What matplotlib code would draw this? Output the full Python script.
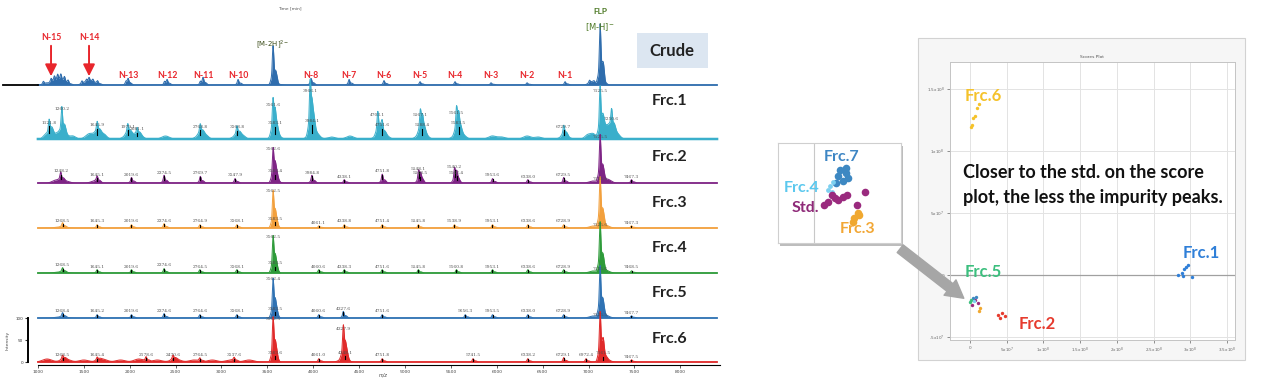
import numpy as np
import matplotlib
matplotlib.use('Agg')
import matplotlib.pyplot as plt
from matplotlib.patches import Rectangle, FancyArrowPatch

W, H = 1280, 380
BOLD = ['Lato', 'DejaVu Sans']

# ---------------- spectra data (m/z, peak height) ----------------
trace_names = ['Crude', 'Frc.1', 'Frc.2', 'Frc.3', 'Frc.4', 'Frc.5', 'Frc.6']
trace_colors = ['#2f6dad', '#3aafcb', '#7e2485', '#f2a03d', '#2e9b3a', '#2f72b3', '#e02a2a']

crude_peaks = [(1060, 3), (1143, 4), (1180, 5), (1215, 6), (1250, 6), (1290, 5), (1330, 3),
               (1480, 3), (1530, 3), (1557, 4), (1600, 3), (1650, 3), (1960, 3), (1982, 5),
               (2380, 3), (2407, 4), (2770, 3), (2799, 6), (3181, 5), (3562, 35), (3976, 6),
               (4390, 5), (4771, 4), (5164, 3), (5545, 3), (5937, 2), (6330, 2), (6744, 3),
               (7010, 3), (7060, 2), (7125.5, 55), (7165, 4)]

frc1_peaks = [(1121.8, 13), (1260.2, 26), (1645.9, 10), (1979.1, 9), (2081.1, 6), (2768.8, 9),
              (3168.8, 8), (3561.6, 30), (3583.1, 12), (3966.1, 45), (3984.1, 14), (4703.1, 20),
              (4751.6, 10), (5167.1, 20), (5188.4, 10), (5561.5, 23), (5583.5, 12), (6729.7, 9),
              (7125.5, 45), (7250.6, 17)]
frc2_peaks = [(1248.2, 8), (1645.1, 5), (2019.6, 5), (2374.5, 7), (2769.7, 6), (3147.9, 4),
              (3562.6, 30), (3583.4, 8), (3984.8, 7), (4338.1, 3), (4751.8, 8), (5148.1, 11),
              (5168.5, 6), (5540.2, 13), (5562.4, 7), (5953.6, 4), (6338.0, 3), (6729.5, 5),
              (7125.5, 43), (7467.3, 3)]
frc3_peaks = [(1268.5, 4), (1645.3, 3), (2019.6, 3), (2374.6, 4), (2764.9, 3), (3168.1, 3),
              (3562.5, 33), (3583.5, 6), (4061.1, 2), (4338.8, 3), (4751.4, 3), (5145.8, 3),
              (5538.9, 3), (5953.1, 3), (6338.6, 3), (6728.9, 3), (7125.5, 45), (7467.3, 2)]
frc4_peaks = [(1268.5, 4), (1645.1, 3), (2019.6, 3), (2374.6, 4), (2764.5, 3), (3168.1, 3),
              (3562.5, 33), (3583.5, 6), (4060.6, 3), (4338.3, 3), (4751.6, 3), (5145.8, 3),
              (5560.8, 3), (5953.1, 3), (6338.6, 3), (6728.9, 3), (7125.6, 45), (7468.5, 2)]
frc5_peaks = [(1268.4, 4), (1645.2, 3), (2019.6, 3), (2374.6, 4), (2764.6, 3), (3168.1, 3),
              (3562.4, 35), (3583.5, 6), (4060.6, 3), (4327.6, 6), (4751.6, 3), (5656.3, 3),
              (5953.5, 3), (6338.0, 3), (6728.9, 3), (7125.6, 46), (7467.7, 2)]
frc6_peaks = [(1268.5, 4), (1645.4, 3), (2178.6, 4), (2470.6, 4), (2764.5, 3), (3137.6, 3),
              (3562.5, 40), (3583.6, 6), (4061.0, 3), (4327.9, 29), (4348.1, 6), (4751.8, 3),
              (5741.5, 3), (6338.2, 3), (6729.1, 4), (6972.4, 3), (7125.5, 44), (7161.5, 5),
              (7467.5, 2)]

# broad low bumps of the noisy baseline (m/z, height, width)
crude_humps = [(1150, 2, 50), (1250, 2, 40), (1560, 2, 60), (3600, 1, 40), (7040, 2, 40)]
frc1_humps = [(1080, 4, 25), (1150, 7, 30), (1220, 6, 25), (1300, 5, 30), (1380, 3, 30),
              (1560, 5, 40), (1650, 6, 40), (1720, 4, 30), (1980, 5, 40), (2060, 4, 40),
              (2120, 3, 30), (2390, 3, 40), (2770, 5, 40), (2830, 3, 30), (3170, 4, 40),
              (3230, 3, 30), (3570, 6, 30), (3620, 3, 30), (3990, 8, 40), (4050, 3, 30),
              (4200, 2, 40), (4400, 3, 40), (4720, 6, 40), (4800, 3, 30), (5170, 6, 40),
              (5230, 3, 30), (5570, 6, 40), (5640, 3, 30), (5950, 3, 40), (6050, 2, 40),
              (6330, 3, 40), (6450, 2, 40), (6740, 4, 40), (6990, 4, 30), (7050, 5, 30),
              (7190, 12, 40), (7260, 8, 40), (7320, 3, 30)]
frc2_humps = [(1200, 3, 40), (1300, 2, 40), (1620, 2, 40), (3600, 2, 30), (7050, 2, 40), (7200, 4, 40)]
frc3_humps = [(1250, 1, 60), (7050, 2, 40), (7180, 3, 40)]
frc4_humps = [(1250, 1, 60), (7050, 2, 40), (7180, 3, 40)]
frc5_humps = [(1250, 1, 60), (7050, 2, 40), (7180, 3, 40)]
frc6_humps = [(1100, 3, 50), (1300, 3, 50), (1500, 2, 50), (1700, 3, 50), (1900, 2, 50),
              (2100, 3, 50), (2300, 2, 50), (2500, 3, 50), (2700, 2, 50), (2900, 2, 50),
              (3100, 2, 50), (3300, 2, 50), (4330, 4, 40), (7180, 4, 40)]

all_peaks = [crude_peaks, frc1_peaks, frc2_peaks, frc3_peaks, frc4_peaks, frc5_peaks, frc6_peaks]
all_humps = [crude_humps, frc1_humps, frc2_humps, frc3_humps, frc4_humps, frc5_humps, frc6_humps]

# truncated-sequence ladder labels of the crude trace
ladder_names = ['N-13', 'N-12', 'N-11', 'N-10', 'N-8', 'N-7', 'N-6', 'N-5', 'N-4', 'N-3', 'N-2', 'N-1']
ladder_mz = [1982, 2407, 2799, 3181, 3976, 4390, 4771, 5164, 5545, 5937, 6330, 6744]
arrow_names = ['N-15', 'N-14']
arrow_mz = [1143, 1557]

mz_ticks = list(range(1000, 8001, 500))

# ---------------- score plot data (units of 1e7) ----------------
score_groups = ['Frc.6', 'Frc.1', 'Frc.2', 'Std.', 'Frc.7', 'Frc.3', 'Frc.5', 'Frc.4']
score_colors = ['#f5c22a', '#2f7fd8', '#e63b2e', '#9a2a7e', '#3d88c2', '#f0a830', '#3cbf7e', '#7dd0f0']
score_x = [[1.23, 0.95, 0.68, 0.41, 0.27, 0.14],
           [28.34, 28.88, 29.16, 29.43, 29.70, 30.25, 29.02],
           [3.81, 4.36, 4.77, 4.09],
           [0.68, 1.09, 0.27],
           [0.41, 0.82],
           [1.36, 1.23],
           [0.14, 0.0],
           [0.54]]
score_y = [[13.79, 13.47, 12.82, 12.66, 12.10, 11.94],
           [0.0, 0.16, 0.48, 0.65, 0.81, -0.16, -0.08],
           [-3.23, -3.06, -3.31, -3.47],
           [-2.02, -2.26, -2.42],
           [-1.85, -1.77],
           [-2.66, -2.90],
           [-2.02, -2.18],
           [-2.10]]

# zoomed cluster (inset, local 0-1 units)
inset_groups = ['Frc.7', 'Frc.4', 'Std.', 'Frc.3']
inset_colors = ['#3d88c2', '#7dd0f0', '#9a2a7e', '#f0a830']
inset_x = [[0.50, 0.55, 0.57, 0.49, 0.53, 0.47, 0.55],
           [0.42, 0.45, 0.41, 0.44],
           [0.71, 0.53, 0.46, 0.41, 0.37, 0.64, 0.56, 0.44, 0.49],
           [0.66, 0.62, 0.61, 0.65]]
inset_y = [[0.73, 0.70, 0.65, 0.67, 0.62, 0.60, 0.75],
           [0.57, 0.61, 0.53, 0.51],
           [0.51, 0.46, 0.45, 0.41, 0.38, 0.38, 0.48, 0.48, 0.43],
           [0.28, 0.25, 0.21, 0.30]]

# ---------------------------------------------------------------
fig = plt.figure(figsize=(12.8, 3.8), dpi=100)
fig.patch.set_facecolor('white')


def fbox(x0, y0, x1, y1):
    return [x0 / W, 1 - y1 / H, (x1 - x0) / W, (y1 - y0) / H]


def ftext(px, py, s, **kw):
    return fig.text(px / W, 1 - py / H, s, **kw)


ax = fig.add_axes(fbox(0, 0, 720, 380))
ax.set_xlim(587, 8432)
ax.set_ylim(0, 380)
ax.patch.set_alpha(0)
for side in ['top', 'right', 'left']:
    ax.spines[side].set_visible(False)
ax.spines['bottom'].set_position(('data', 15))
ax.spines['bottom'].set_bounds(1000, 8432)
ax.spines['bottom'].set_linewidth(0.8)
ax.set_yticks([])
ax.set_xticks(mz_ticks)
ax.set_xticklabels([str(t) for t in mz_ticks])
ax.tick_params(axis='x', labelsize=3.2, length=2, width=0.6, pad=1.5, colors='#444444')

offsets = [295, 241, 197, 152, 107, 62, 18]
mz = np.linspace(1000, 8400, 12000)
adduct_off = [22, 38, -18]
adduct_ratio = [0.3, 0.18, 0.15]


def build(peaks, humps, sigma=8.0):
    y = np.zeros_like(mz)
    for m, h in peaks:
        y += h * np.exp(-0.5 * ((mz - m) / sigma) ** 2)
        for off, r in zip(adduct_off, adduct_ratio):
            y += h * r * np.exp(-0.5 * ((mz - m - off) / (sigma * 1.5)) ** 2)
    for m, h, w in humps:
        y += h * np.exp(-0.5 * ((mz - m) / w) ** 2)
    return y


ax.plot([620, 1000], [offsets[0], offsets[0]], color='black', lw=1.3, zorder=3)
for i, name in enumerate(trace_names):
    y = build(all_peaks[i], all_humps[i])
    base = offsets[i]
    c = trace_colors[i]
    lw = 1.8 if name == 'Frc.1' else 1.2
    ax.fill_between(mz, base, base + y, color=c, lw=0, zorder=2)
    ax.plot(mz, base + y, color=c, lw=0.7, zorder=2)
    ax.plot(mz, np.full_like(mz, base), color=c, lw=lw, zorder=2)
    if name == 'Crude':
        continue
    for m, h in all_peaks[i]:
        ax.text(m, base + h + 1.5, f'{m:.1f}', fontsize=3.2, family='DejaVu Serif',
                color='#4d4d4d', ha='center', va='bottom', zorder=4)
        if h <= 15:
            ax.plot([m, m], [base + h * 0.45, base + h + 0.5], color='black', lw=0.8, zorder=3)

# crude annotations
for name, m in zip(ladder_names, ladder_mz):
    ax.text(m, 380 - 76, name, fontsize=6.3, fontweight='bold', family=BOLD,
            color='#e8262c', ha='center', va='center')
for name, m in zip(arrow_names, arrow_mz):
    ax.text(m, 380 - 37, name, fontsize=6.3, fontweight='bold', family=BOLD,
            color='#e8262c', ha='center', va='center')
    ax.annotate('', xy=(m, 380 - 79), xytext=(m, 380 - 43),
                arrowprops=dict(arrowstyle='-|>,head_width=0.35,head_length=0.7',
                                color='#e8262c', lw=1.4))
ax.text(3562, 380 - 45, r'[M-2H]$^{2-}$', fontsize=5, color='#3d4f1c', ha='center', va='center')
ax.text(7125, 380 - 12, 'FLP', fontsize=6, color='#4e7a27', ha='center', va='center',
        fontweight='bold', family=BOLD)
ax.text(7125, 380 - 27, r'[M-H]$^{-}$', fontsize=6, color='#4e7a27', ha='center', va='center')

ftext(290, 8, 'Time [min]', fontsize=3.2, color='#555555', ha='center', va='center')
ftext(383, 375, 'm/z', fontsize=3.5, color='#444444', ha='center', va='center', style='italic')

# trace names on the right
fig.patches.append(Rectangle((637 / W, 1 - 68 / H), 71 / W, 35 / H, transform=fig.transFigure,
                             facecolor='#dce6f1', edgecolor='none', zorder=-1))
ftext(672, 51, 'Crude', fontsize=12, fontweight='bold', family=BOLD, color='#222222',
      ha='center', va='center')
name_y = [101, 157, 203, 248, 293, 339]
for name, py in zip(trace_names[1:], name_y):
    ftext(652, py, name, fontsize=11.5, fontweight='bold', family=BOLD, color='#222222',
          ha='left', va='center')

# intensity scale bar
iax = fig.add_axes(fbox(28, 318, 29, 362))
iax.set_ylim(0, 100)
iax.set_xticks([])
iax.set_yticks([0, 50, 100])
iax.tick_params(axis='y', labelsize=3, length=2.5, width=0.8, pad=1, colors='#333333')
for side in ['top', 'right', 'bottom']:
    iax.spines[side].set_visible(False)
iax.spines['left'].set_linewidth(1.4)
iax.patch.set_alpha(0)
ftext(8, 340, 'Intensity', fontsize=3.2, color='#444444', rotation=90, ha='center', va='center')

# ---------------- score plot ----------------
fig.patches.append(Rectangle((918 / W, 1 - 360 / H), 327 / W, 322 / H, transform=fig.transFigure,
                             facecolor='#f6f6f6', edgecolor='#d2d2d2', lw=0.8, zorder=-1))
sax = fig.add_axes(fbox(950, 62, 1235, 340))
sax.set_xlim(-2.72, 36.1)
sax.set_ylim(-5.24, 17.18)
sx_ticks = [0, 5, 10, 15, 20, 25, 30, 35]
sy_ticks = [-5, 0, 5, 10, 15]


def sci(v):
    if v == 0:
        return '0'
    if abs(v) < 10:
        return f'{v:g}x10$^{{7}}$'
    return f'{v / 10:g}x10$^{{8}}$'


sax.set_xticks(sx_ticks)
sax.set_xticklabels([sci(v) for v in sx_ticks])
sax.set_yticks(sy_ticks)
sax.set_yticklabels([sci(v) for v in sy_ticks])
sax.tick_params(labelsize=3, length=2, width=0.5, colors='#666666', pad=2)
sax.grid(True, color='#e3e3e3', lw=0.7)
sax.set_axisbelow(True)
sax.axhline(0, color='#a0a0a0', lw=0.9, zorder=1)
for s in sax.spines.values():
    s.set_color('#c4c4c4')
    s.set_linewidth(0.7)
sax.set_title('Scores Plot', fontsize=3.2, color='#555555', pad=3)
for xs, ys, c in zip(score_x, score_y, score_colors):
    sax.scatter(xs, ys, s=6, color=c, zorder=3, linewidths=0)

ftext(983, 96, 'Frc.6', fontsize=12, fontweight='bold', family=BOLD, color='#f5c22a',
      ha='center', va='center')
ftext(1201, 253, 'Frc.1', fontsize=12, fontweight='bold', family=BOLD, color='#2f7fd8',
      ha='center', va='center')
ftext(983, 272, 'Frc.5', fontsize=12, fontweight='bold', family=BOLD, color='#3cbf7e',
      ha='center', va='center')
ftext(1037, 324, 'Frc.2', fontsize=12, fontweight='bold', family=BOLD, color='#e63b2e',
      ha='center', va='center')
ftext(963, 173, 'Closer to the std. on the score', fontsize=13, fontweight='bold',
      family=BOLD, color='#111111', ha='left', va='center')
ftext(963, 198, 'plot, the less the impurity peaks.', fontsize=13, fontweight='bold',
      family=BOLD, color='#111111', ha='left', va='center')

# ---------------- zoomed inset ----------------
fig.patches.append(Rectangle((780 / W, 1 - 246 / H), 123 / W, 100 / H, transform=fig.transFigure,
                             facecolor='#bdbdbd', edgecolor='none', zorder=0.5))
zax = fig.add_axes(fbox(778, 143, 901, 243))
zax.set_zorder(1)
zax.set_xlim(0, 1)
zax.set_ylim(0, 1)
zax.set_xticks([])
zax.set_yticks([])
for s in zax.spines.values():
    s.set_color('#cfcfcf')
    s.set_linewidth(0.8)
zax.axvline(0.29, color='#c8c8c8', lw=0.8)
for xs, ys, c, name in zip(inset_x, inset_y, inset_colors, inset_groups):
    sz = 12 if name == 'Frc.4' else 30
    zax.scatter(xs, ys, s=sz, color=c, linewidths=0, zorder=3)
ftext(842, 157, 'Frc.7', fontsize=11.5, fontweight='bold', family=BOLD, color='#3e86c4',
      ha='center', va='center', zorder=3)
ftext(802, 188, 'Frc.4', fontsize=11.5, fontweight='bold', family=BOLD, color='#5bc8ee',
      ha='center', va='center', zorder=3)
ftext(805, 208, 'Std.', fontsize=11.5, fontweight='bold', family=BOLD, color='#8e2a78',
      ha='center', va='center', zorder=3)
ftext(858, 229, 'Frc.3', fontsize=11.5, fontweight='bold', family=BOLD, color='#f2a735',
      ha='center', va='center', zorder=3)

arrow = FancyArrowPatch((898 / W, 1 - 247 / H), (966 / W, 1 - 300 / H), transform=fig.transFigure,
                        arrowstyle='simple,head_width=1.0,head_length=0.9,tail_width=0.5',
                        mutation_scale=14, color='#a6a6a6', zorder=5)
fig.patches.append(arrow)

fig.savefig('out.png', dpi=100)
